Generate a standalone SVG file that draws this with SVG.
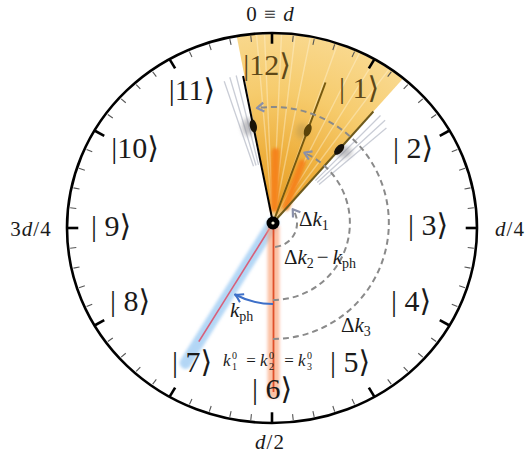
<svg xmlns="http://www.w3.org/2000/svg" xmlns:xlink="http://www.w3.org/1999/xlink" width="530" height="461" viewBox="0 0 530 461">
<style>
.ket{font-family:"Liberation Serif","DejaVu Serif",serif;font-size:30px;fill:#1a1a1a;text-anchor:middle}
.ketw{fill:#5e4818}
.m{font-family:"Liberation Serif","DejaVu Serif",serif;fill:#1a1a1a}
.it{font-style:italic}
.mj{stroke:#000;stroke-width:2.6;vector-effect:non-scaling-stroke}
.mn{stroke:#555;stroke-width:1.1;vector-effect:non-scaling-stroke}
.dash{fill:none;stroke:#8a8a8a;stroke-width:2;stroke-dasharray:6 4}
.ghost{stroke:#9ea4b4;stroke-width:1.3;opacity:.55}
.ray{stroke:#fff6dc;stroke-width:1.4;opacity:.4}
</style>
<defs>
<line id="tj" x1="0" y1="-200" x2="0" y2="-189" class="mj"/>
<line id="tn" x1="0" y1="-198" x2="0" y2="-192" class="mn"/>
<clipPath id="face"><ellipse cx="272" cy="228" rx="204" ry="194"/></clipPath>
<radialGradient id="wg" gradientUnits="userSpaceOnUse" cx="273" cy="223" r="200">
<stop offset="0" stop-color="#e49a22"/>
<stop offset="0.35" stop-color="#eeb03e"/>
<stop offset="0.65" stop-color="#f6cb6c"/>
<stop offset="1" stop-color="#f9da92"/>
</radialGradient>
<filter id="bl" filterUnits="userSpaceOnUse" x="0" y="0" width="530" height="461"><feGaussianBlur stdDeviation="1.6"/></filter>
<filter id="bl2" filterUnits="userSpaceOnUse" x="0" y="0" width="530" height="461"><feGaussianBlur stdDeviation="2.5"/></filter>
<marker id="ag" viewBox="-10 -6 12 12" refX="0" refY="0" markerWidth="12" markerHeight="12" markerUnits="userSpaceOnUse" orient="auto">
<path d="M-7,-4.5 L0,0 L-7,4.5" fill="none" stroke="#8a90aa" stroke-width="2.2" stroke-linejoin="round"/>
</marker>
<marker id="ab" viewBox="-10 -6 12 12" refX="0" refY="0" markerWidth="12" markerHeight="12" markerUnits="userSpaceOnUse" orient="auto">
<path d="M-8,-4.5 Q-3,-1 0,0 Q-3,1 -8,4.5" fill="none" stroke="#3d6fc8" stroke-width="2" stroke-linejoin="round"/>
</marker>
</defs>
<rect width="530" height="461" fill="#fff"/>

<g id="uncertainty-wedge" clip-path="url(#face)">
<path d="M273,223 L215.8,-71.5 L473.7,0.1 Z" fill="url(#wg)"/>
<line class="ray" x1="273" y1="223" x2="255.6" y2="23.8"/>
<line class="ray" x1="273" y1="223" x2="264" y2="23"/>
<line class="ray" x1="273" y1="223" x2="282" y2="23"/>
<line class="ray" x1="273" y1="223" x2="296.4" y2="23.8"/>
<line class="ray" x1="273" y1="223" x2="312.7" y2="26"/>
<line class="ray" x1="273" y1="223" x2="340.8" y2="34.8"/>
<line class="ray" x1="273" y1="223" x2="363.8" y2="44.8"/>
<line class="ray" x1="273" y1="223" x2="379" y2="53.4"/>
<line class="ray" x1="273" y1="223" x2="393.4" y2="63.3"/>
</g>

<g id="clock-face" transform="translate(272,228) scale(1.025,0.975)">
<circle r="200" fill="none" stroke="#000" stroke-width="2.6" vector-effect="non-scaling-stroke"/>
<use href="#tj"/><use href="#tn" transform="rotate(6)"/><use href="#tn" transform="rotate(12)"/><use href="#tn" transform="rotate(18)"/><use href="#tn" transform="rotate(24)"/>
<use href="#tj" transform="rotate(30)"/><use href="#tn" transform="rotate(36)"/><use href="#tn" transform="rotate(42)"/><use href="#tn" transform="rotate(48)"/><use href="#tn" transform="rotate(54)"/>
<use href="#tj" transform="rotate(60)"/><use href="#tn" transform="rotate(66)"/><use href="#tn" transform="rotate(72)"/><use href="#tn" transform="rotate(78)"/><use href="#tn" transform="rotate(84)"/>
<use href="#tj" transform="rotate(90)"/><use href="#tn" transform="rotate(96)"/><use href="#tn" transform="rotate(102)"/><use href="#tn" transform="rotate(108)"/><use href="#tn" transform="rotate(114)"/>
<use href="#tj" transform="rotate(120)"/><use href="#tn" transform="rotate(126)"/><use href="#tn" transform="rotate(132)"/><use href="#tn" transform="rotate(138)"/><use href="#tn" transform="rotate(144)"/>
<use href="#tj" transform="rotate(150)"/><use href="#tn" transform="rotate(156)"/><use href="#tn" transform="rotate(162)"/><use href="#tn" transform="rotate(168)"/><use href="#tn" transform="rotate(174)"/>
<use href="#tj" transform="rotate(180)"/><use href="#tn" transform="rotate(186)"/><use href="#tn" transform="rotate(192)"/><use href="#tn" transform="rotate(198)"/><use href="#tn" transform="rotate(204)"/>
<use href="#tj" transform="rotate(210)"/><use href="#tn" transform="rotate(216)"/><use href="#tn" transform="rotate(222)"/><use href="#tn" transform="rotate(228)"/><use href="#tn" transform="rotate(234)"/>
<use href="#tj" transform="rotate(240)"/><use href="#tn" transform="rotate(246)"/><use href="#tn" transform="rotate(252)"/><use href="#tn" transform="rotate(258)"/><use href="#tn" transform="rotate(264)"/>
<use href="#tj" transform="rotate(270)"/><use href="#tn" transform="rotate(276)"/><use href="#tn" transform="rotate(282)"/><use href="#tn" transform="rotate(288)"/><use href="#tn" transform="rotate(294)"/>
<use href="#tj" transform="rotate(300)"/><use href="#tn" transform="rotate(306)"/><use href="#tn" transform="rotate(312)"/><use href="#tn" transform="rotate(318)"/><use href="#tn" transform="rotate(324)"/>
<use href="#tj" transform="rotate(330)"/><use href="#tn" transform="rotate(336)"/><use href="#tn" transform="rotate(342)"/><use href="#tn" transform="rotate(348)"/><use href="#tn" transform="rotate(354)"/>
</g>

<g id="hand-photon">
<line x1="273" y1="223" x2="185.6" y2="362.9" stroke="#94c6f2" stroke-width="12" stroke-linecap="round" opacity="0.7" filter="url(#bl)"/>
<line x1="273" y1="223" x2="198.8" y2="341.7" stroke="#d8607a" stroke-width="1.6"/>
</g>
<g id="hand-initial">
<line x1="273.5" y1="226" x2="273.5" y2="398" stroke="#f9a075" stroke-width="12" opacity="0.65" filter="url(#bl)"/>
<line x1="273.5" y1="226" x2="273.5" y2="392" stroke="#e0502a" stroke-width="1.8"/>
</g>

<g id="state-labels">
<text class="ket ketw" x="267" y="75">|12⟩</text>
<text class="ket ketw" x="359" y="98">| 1⟩</text>
<text class="ket" x="413" y="158">| 2⟩</text>
<text class="ket" x="428" y="235">| 3⟩</text>
<text class="ket" x="411" y="311">| 4⟩</text>
<text class="ket" x="350" y="372">| 5⟩</text>
<text class="ket" x="272" y="399">| 6⟩</text>
<text class="ket" x="192" y="372">| 7⟩</text>
<text class="ket" x="130" y="311">| 8⟩</text>
<text class="ket" x="111" y="236">| 9⟩</text>
<text class="ket" x="135" y="158">|10⟩</text>
<text class="ket" x="192" y="100">|11⟩</text>
</g>

<g id="scale-labels" class="m" font-size="21">
<text x="270" y="21" text-anchor="middle">0 <tspan dx="2">≡</tspan> <tspan dx="2" class="it">d</tspan></text>
<text x="510" y="236" text-anchor="middle" letter-spacing="1"><tspan class="it">d</tspan>/4</text>
<text x="270" y="449" text-anchor="middle" letter-spacing="1"><tspan class="it">d</tspan>/2</text>
<text x="31" y="236" text-anchor="middle" letter-spacing="1">3<tspan class="it">d</tspan>/4</text>
</g>

<g id="ghost-hands">
<line class="ghost" x1="258.5" y1="164.8" x2="236.2" y2="75.5"/>
<line class="ghost" x1="256" y1="165.5" x2="229.8" y2="77.3"/>
<line class="ghost" x1="253.5" y1="166.3" x2="224.2" y2="81.2"/>
<line class="ghost" x1="315.4" y1="180.6" x2="380.5" y2="115.5"/>
<line class="ghost" x1="317.2" y1="182.5" x2="385.1" y2="120.3"/>
<line class="ghost" x1="319" y1="184.4" x2="386.4" y2="127.9"/>
<ellipse cx="248" cy="127" rx="6" ry="9" fill="#8a8a90" opacity="0.55" filter="url(#bl2)"/>
<ellipse cx="344" cy="152" rx="8" ry="6" fill="#8a8a90" opacity="0.55" filter="url(#bl2)"/>
<ellipse cx="302" cy="131" rx="6" ry="8" fill="#a08850" opacity="0.35" filter="url(#bl2)"/>
</g>

<g id="orange-bars" filter="url(#bl)">
<line x1="274.5" y1="208" x2="275.5" y2="152" stroke="#f5841a" stroke-width="8" stroke-linecap="round"/>
<line x1="286" y1="207" x2="302" y2="163" stroke="#f5841a" stroke-width="7" stroke-linecap="round"/>
</g>

<g id="hand-1">
<line x1="273" y1="223" x2="243.1" y2="76" stroke="#000" stroke-width="2"/>
<ellipse cx="253.3" cy="126" rx="3.5" ry="6.5" transform="rotate(-11.5 253.3 126)" fill="#1a1408"/>
</g>
<g id="hand-2">
<line x1="273" y1="223" x2="325.5" y2="82.5" stroke="#76590f" stroke-width="2"/>
<ellipse cx="307.7" cy="130.3" rx="3.5" ry="6.5" transform="rotate(20.5 307.7 130.3)" fill="#5a430a"/>
</g>
<g id="hand-3">
<line x1="273" y1="223" x2="373.4" y2="111.5" stroke="#6e5a1c" stroke-width="2"/>
<ellipse cx="339.2" cy="149.4" rx="3.5" ry="6.5" transform="rotate(42 339.2 149.4)" fill="#14100a"/>
</g>

<g id="connectors">
<path class="dash" d="M275.1,246.9 A24,24 0 0 0 292.7,209.2" marker-end="url(#ag)"/>
<path class="dash" d="M273,300 A77,77 0 0 0 304.3,152.7" marker-end="url(#ag)"/>
<path class="dash" d="M273,339 A116,116 0 1 0 256.9,108.1" marker-end="url(#ag)"/>
<path d="M273,304 A81,81 0 0 1 235,294.5" fill="none" stroke="#3d6fc8" stroke-width="2" marker-end="url(#ab)"/>
</g>

<g id="pivot">
<circle cx="273" cy="223" r="6.5" fill="#000"/>
<circle cx="273" cy="223" r="1.6" fill="#f4eed8"/>
</g>

<g id="annotations" class="m">
<text x="299" y="226" font-size="21">Δ<tspan class="it">k</tspan><tspan font-size="14" dy="4">1</tspan></text>
<text x="284" y="264" font-size="21">Δ<tspan class="it">k</tspan><tspan font-size="14" dy="4">2</tspan><tspan dy="-4" dx="3">−</tspan><tspan class="it" dx="4">k</tspan><tspan font-size="14" dy="4">ph</tspan></text>
<text x="230" y="317" font-size="21"><tspan class="it">k</tspan><tspan font-size="14" dy="4">ph</tspan></text>
<text x="341" y="332" font-size="21">Δ<tspan class="it">k</tspan><tspan font-size="14" dy="4">3</tspan></text>
<text x="223" y="366" font-size="17" class="it">k</text>
<text x="232" y="359" font-size="10">0</text>
<text x="232" y="370" font-size="10">1</text>
<text x="251" y="366" font-size="17" text-anchor="middle">=</text>
<text x="260" y="366" font-size="17" class="it">k</text>
<text x="269" y="359" font-size="10">0</text>
<text x="269" y="370" font-size="10">2</text>
<text x="289" y="366" font-size="17" text-anchor="middle">=</text>
<text x="298" y="366" font-size="17" class="it">k</text>
<text x="307" y="359" font-size="10">0</text>
<text x="307" y="370" font-size="10">3</text>
</g>
</svg>
